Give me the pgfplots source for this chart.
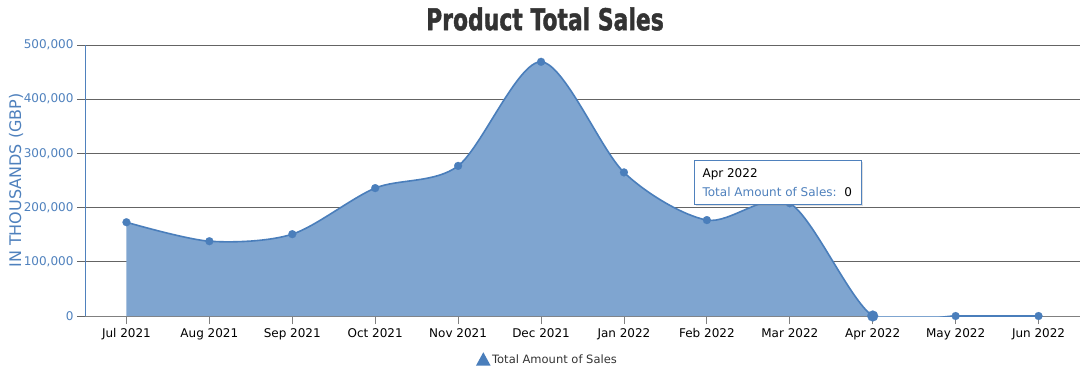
\documentclass[border=0pt]{standalone}
\usepackage{pgfplots}
\pgfplotsset{compat=1.18}
\usepackage{fontspec}
\usepackage{graphicx}
\setmainfont{DejaVu Sans}
\newfontfamily\titlefont{DejaVu Sans}[BoldFeatures={FakeBold=1.6}]
\usetikzlibrary{shadows}
\definecolor{fillc}{RGB}{127,165,208}
\definecolor{linec}{RGB}{74,126,187}
\definecolor{ylab}{RGB}{79,129,189}
\definecolor{gridc}{RGB}{100,100,100}
\definecolor{titlec}{RGB}{51,51,51}
\pgfplotstableread{
x y
0 173000
1 138000
2 151000
3 236000
4 277000
5 469000
6 265000
7 177000
8 208000
9 0
10 0
11 0
}\sales
\begin{document}
\begin{tikzpicture}[x=1pt,y=1pt]
\useasboundingbox (0,0) rectangle (1089,370);
\begin{axis}[
  at={(85pt,54pt)}, anchor=south west,
  scale only axis, width=995pt, height=271pt,
  xmin=-0.5, xmax=11.5, ymin=0, ymax=500000,
  xtick={0,...,11},
  xticklabels={Jul 2021,Aug 2021,Sep 2021,Oct 2021,Nov 2021,Dec 2021,Jan 2022,Feb 2022,Mar 2022,Apr 2022,May 2022,Jun 2022},
  ytick={0,100000,...,500000},
  scaled y ticks=false,
  /pgf/number format/.cd, fixed, 1000 sep={,}, assume math mode=true,
  /pgfplots/.cd,
  ymajorgrids, grid style={gridc, line width=0.8pt},
  axis x line*=bottom, axis y line*=left,
  x axis line style={gray, line width=0.8pt},
  y axis line style={ylab, line width=0.8pt},
  tick align=outside,
  major tick length=8pt,
  xtick style={gray, line width=0.8pt},
  ytick style={gridc, line width=0.8pt},
  x tick label style={font=\fontsize{12}{14}\selectfont, black, yshift=-1pt},
  y tick label style={font=\fontsize{12}{14}\selectfont, ylab},
  ylabel={IN THOUSANDS (GBP)},
  ylabel style={font=\fontsize{16}{18}\selectfont, ylab, at={(-69pt,0.5)}, anchor=center},
  legend style={at={(0.465,-0.162)}, anchor=center, draw=none, fill=none,
     font=\fontsize{11.5}{13}\selectfont\color{titlec}},
  legend cell align=left,
]
\addplot[draw=none, fill=fillc, smooth, tension=0.5, forget plot] table[x=x,y=y]{\sales} \closedcycle;
\addplot[linec, line width=1.6pt, smooth, tension=0.5, no marks,
  legend image code/.code={\fill[linec] (0pt,-5pt) -- (12pt,-5pt) -- (6pt,6pt) -- cycle;}]
  table[x=x,y=y]{\sales};
\addlegendentry{Total Amount of Sales}
\addplot[linec, only marks, mark=*, mark size=4pt, mark options={fill=linec, draw=linec, line width=0.1pt}, forget plot]
  table[x=x,y=y]{\sales};
\addplot[linec, only marks, mark=*, mark size=5.5pt, mark options={fill=linec, draw=linec, line width=0.1pt}, forget plot]
  coordinates {(9,0)};
\end{axis}
\node[titlec] at (545,351) {\scalebox{0.73}[1]{\titlefont\fontsize{30}{32}\selectfont\bfseries Product Total Sales}};
\node[draw=ylab, line width=0.8pt, fill=white, drop shadow={opacity=0.25, shadow xshift=2pt, shadow yshift=-2pt},
  minimum width=167pt, minimum height=44pt, anchor=north west, inner sep=0pt] (tt) at (694,210) {};
\node[anchor=west, font=\fontsize{12}{14}\selectfont, black] at (699,196) {Apr 2022};
\node[anchor=west, font=\fontsize{12}{14}\selectfont] at (699,178) {\textcolor{ylab}{Total Amount of Sales:}\ \ \textcolor{black}{0}};
\end{tikzpicture}
\end{document}
